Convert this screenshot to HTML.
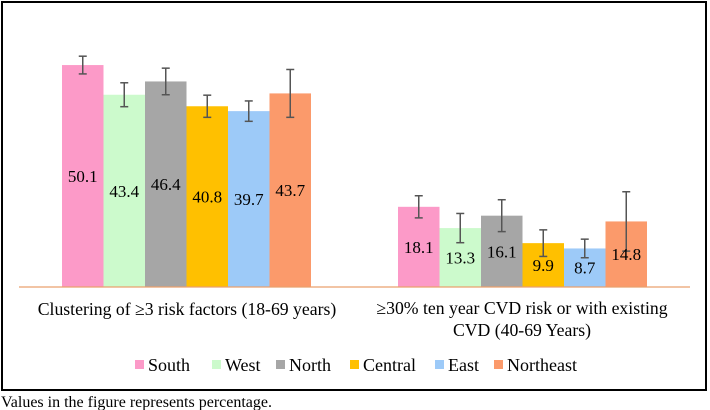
<!DOCTYPE html>
<html><head><meta charset="utf-8"><style>
body{margin:0;background:#fff;}
svg{display:block;font-family:"Liberation Serif",serif;}
</style></head><body>
<svg width="710" height="410">
<rect x="2" y="2" width="704" height="388" fill="#fff" stroke="#000" stroke-width="2"/>
<g id="plot"></g>
<line x1="19" y1="287" x2="690" y2="287" stroke="#e9a06e" stroke-width="1.2"/>
<text x="187" y="315" font-size="17.7" text-anchor="middle">Clustering of ≥3 risk factors (18-69 years)</text>
<text x="522" y="314" font-size="17.7" text-anchor="middle">≥30%  ten year CVD risk or with existing</text>
<text x="522" y="336" font-size="17.7" text-anchor="middle">CVD (40-69 Years)</text>
<g id="legend"></g>
<text x="1" y="407" font-size="16">Values in the figure represents percentage.</text>
</svg>
<script>
const categories=["Clustering","CVD risk"];
const regions=["South","West","North","Central","East","Northeast"];
const colors=["#fc9ac8","#ccfacc","#a6a6a6","#ffc000","#9dcaf8","#fb9a6b"];
const values=[[50.1,43.4,46.4,40.8,39.7,43.7],[18.1,13.3,16.1,9.9,8.7,14.8]];
const errors=[[2.0,2.7,3.0,2.5,2.3,5.4],[2.5,3.3,3.6,3.0,2.1,6.7]];
const labels=[["50.1","43.4","46.4","40.8","39.7","43.7"],["18.1","13.3","16.1","9.9","8.7","14.8"]];
const NS="http://www.w3.org/2000/svg";
const base=287, scale=4.43, bw=41.5, groupStart=[62,398];
const y=v=>base-v*scale;
const plot=document.getElementById('plot');
function mk(t,a){const e=document.createElementNS(NS,t);for(const k in a)e.setAttribute(k,a[k]);return e;}
categories.forEach((c,gi)=>{
 regions.forEach((r,i)=>{
  const x=groupStart[gi]+i*bw,v=values[gi][i],e=errors[gi][i];
  const b=mk('rect',{x:x,y:y(v),width:bw,height:base-y(v),fill:colors[i]});
  
  
  plot.appendChild(b);
  const cx=x+bw/2;
  const g=mk('g',{stroke:'#555','stroke-width':1.5});
  
  
  g.appendChild(mk('line',{x1:cx,x2:cx,y1:y(v+e),y2:y(v-e)}));
  g.appendChild(mk('line',{x1:cx-4,x2:cx+4,y1:y(v+e),y2:y(v+e)}));
  g.appendChild(mk('line',{x1:cx-4,x2:cx+4,y1:y(v-e),y2:y(v-e)}));
  plot.appendChild(g);
  const t=mk('text',{x:cx,y:(y(v)+base)/2+6,'font-size':17,'text-anchor':'middle',fill:'#000'});
  t.textContent=labels[gi][i];
  
  
  plot.appendChild(t);
 });
});
const lg=document.getElementById('legend');
const lx=[135,212,276,350,435,494];
regions.forEach((r,i)=>{
 const s=mk('rect',{x:lx[i],y:360,width:9,height:9,fill:colors[i]});
 
 
 lg.appendChild(s);
 const t=mk('text',{x:lx[i]+13,y:371,'font-size':18});
 t.textContent=r;
 
 
 lg.appendChild(t);
});
</script>
</body></html>
